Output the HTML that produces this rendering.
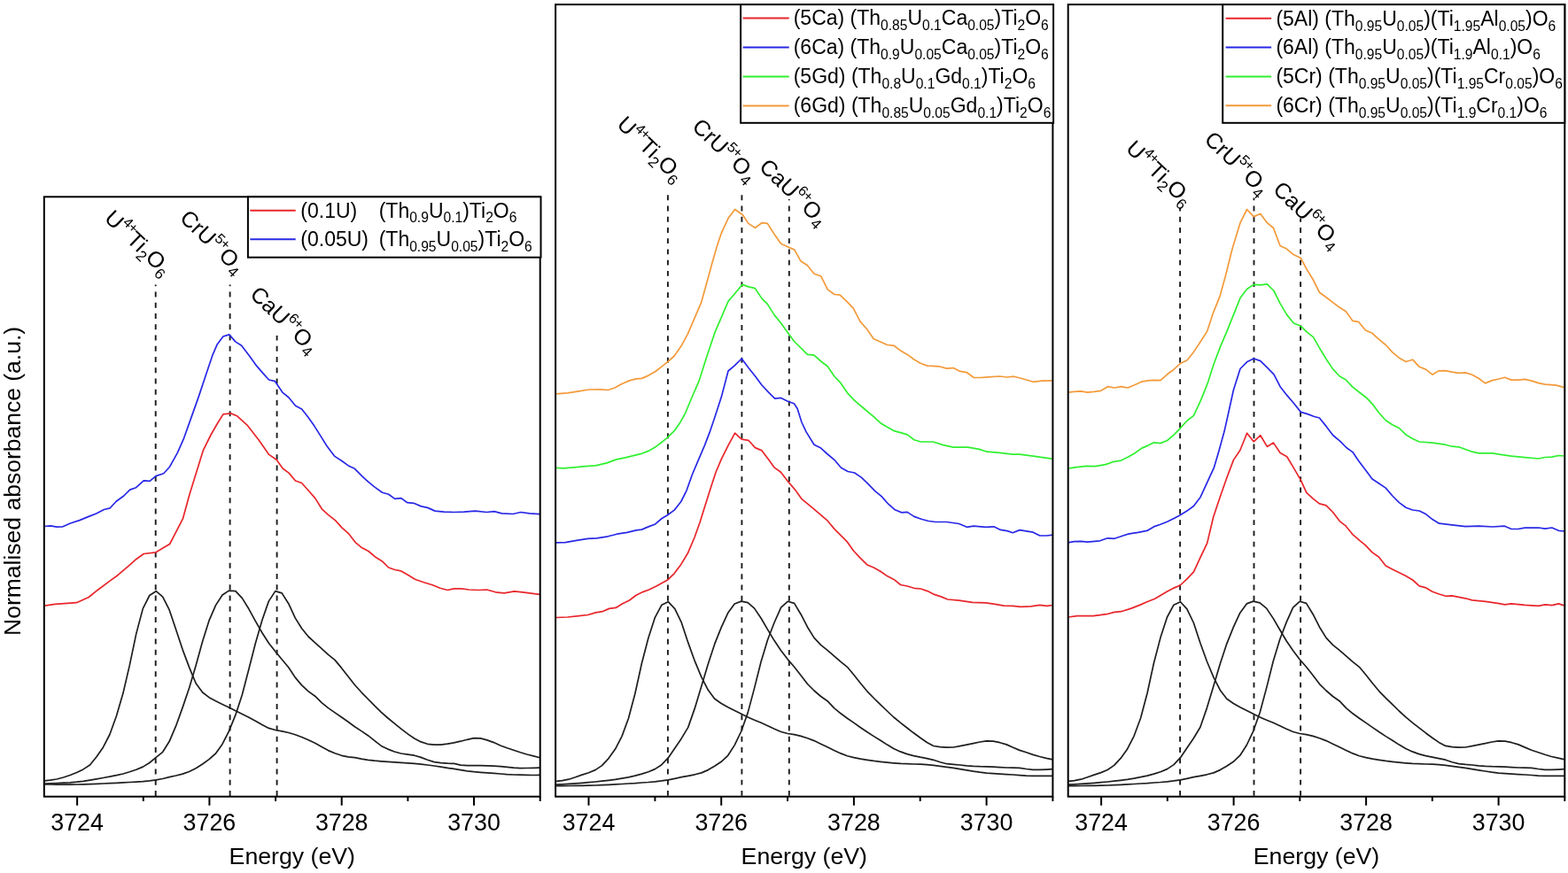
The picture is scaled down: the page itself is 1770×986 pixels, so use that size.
<!DOCTYPE html>
<html><head><meta charset="utf-8"><style>html,body{margin:0;padding:0;background:#fff;}svg{display:block;}</style></head>
<body><svg width="1770" height="986" viewBox="0 0 1770 986" font-family="Liberation Sans, Arial, sans-serif">
<rect width="1770" height="986" fill="#fff"/>
<line x1="175.7" y1="321.4" x2="175.7" y2="899.7" stroke="#1a1a1a" stroke-width="1.9" stroke-dasharray="5.9 6.35" stroke-dashoffset="4.05"/>
<line x1="259.6" y1="321.6" x2="259.6" y2="899.7" stroke="#1a1a1a" stroke-width="1.9" stroke-dasharray="5.9 6.35" stroke-dashoffset="4.25"/>
<line x1="312.6" y1="379.0" x2="312.6" y2="899.7" stroke="#1a1a1a" stroke-width="1.9" stroke-dasharray="5.9 6.35" stroke-dashoffset="0.40"/>
<line x1="753.9" y1="220.3" x2="753.9" y2="899.7" stroke="#1a1a1a" stroke-width="1.9" stroke-dasharray="5.9 6.33" stroke-dashoffset="0.00"/>
<line x1="837.4" y1="220.3" x2="837.4" y2="899.7" stroke="#1a1a1a" stroke-width="1.9" stroke-dasharray="5.9 6.33" stroke-dashoffset="0.00"/>
<line x1="890.8" y1="225.0" x2="890.8" y2="899.7" stroke="#1a1a1a" stroke-width="1.9" stroke-dasharray="5.9 6.33" stroke-dashoffset="4.70"/>
<line x1="1332.1" y1="234.4" x2="1332.1" y2="899.7" stroke="#1a1a1a" stroke-width="1.9" stroke-dasharray="5.9 6.33" stroke-dashoffset="1.87"/>
<line x1="1415.5" y1="223.6" x2="1415.5" y2="899.7" stroke="#1a1a1a" stroke-width="1.9" stroke-dasharray="5.9 6.33" stroke-dashoffset="3.30"/>
<line x1="1468.1" y1="246.6" x2="1468.1" y2="899.7" stroke="#1a1a1a" stroke-width="1.9" stroke-dasharray="5.9 6.33" stroke-dashoffset="1.84"/>
<polyline points="50.4,881.9 56.7,881.2 64.1,880.0 71.6,878.0 79.1,875.5 86.6,872.5 94.0,868.9 101.5,864.0 109.0,854.8 116.5,843.9 123.9,829.5 131.4,808.8 138.9,783.1 146.3,751.4 153.8,715.6 161.3,687.4 168.8,672.5 176.2,667.7 183.7,674.1 191.2,688.9 198.7,711.3 206.1,733.6 213.6,753.6 221.1,771.8 228.6,782.0 236.0,787.7 243.5,791.8 251.0,795.4 258.4,799.1 265.9,802.8 273.4,806.6 280.9,810.3 288.3,814.2 295.8,818.6 303.3,822.4 310.8,824.5 318.2,825.9 325.7,827.5 333.2,829.8 340.6,832.5 348.1,835.7 355.6,839.3 363.1,843.4 370.5,847.6 378.0,850.8 385.5,853.3 393.0,854.8 400.4,855.6 407.9,857.1 415.4,858.4 422.9,859.2 430.3,859.8 437.8,860.4 445.3,860.9 452.7,861.3 460.2,861.8 467.7,862.3 475.2,863.1 482.6,864.0 490.1,865.0 497.6,866.1 505.1,867.3 512.5,868.4 520.0,869.6 527.5,870.8 534.9,871.7 542.4,872.3 549.9,872.8 557.4,873.3 564.8,874.0 572.3,874.6 579.8,875.0 587.3,875.2 594.7,875.4 602.2,875.5 609.4,875.4" fill="none" stroke="#1e1e1e" stroke-width="1.7" stroke-linejoin="round"/>
<polyline points="50.4,885.2 56.7,884.9 64.1,884.6 71.6,884.2 79.1,883.8 86.6,883.2 94.0,882.3 101.5,881.1 109.0,879.8 116.5,878.5 123.9,877.2 131.4,875.7 138.9,874.0 146.3,871.8 153.8,869.3 161.3,866.1 168.8,861.5 176.2,855.4 183.7,849.3 191.2,837.3 198.7,819.7 206.1,799.1 213.6,777.0 221.1,751.7 228.6,724.5 236.0,700.9 243.5,683.6 251.0,672.0 258.4,667.1 265.9,667.6 273.4,675.6 280.9,687.8 288.3,701.4 295.8,714.5 303.3,726.3 310.8,735.8 318.2,744.7 325.7,753.8 333.2,765.1 340.6,773.9 348.1,780.9 355.6,786.2 363.1,793.7 370.5,799.6 378.0,804.9 385.5,810.0 393.0,815.3 400.4,820.7 407.9,825.6 415.4,830.7 422.9,836.7 430.3,842.4 437.8,846.1 445.3,849.0 452.7,851.0 460.2,852.1 467.7,853.2 475.2,855.4 482.6,858.2 490.1,860.6 497.6,861.6 505.1,862.2 512.5,862.4 520.0,864.2 527.5,864.7 534.9,864.7 542.4,864.7 549.9,864.8 557.4,865.1 564.8,865.6 572.3,866.3 579.8,867.1 587.3,867.6 594.7,867.5 602.2,867.3 609.4,867.1" fill="none" stroke="#1e1e1e" stroke-width="1.7" stroke-linejoin="round"/>
<polyline points="50.4,886.0 56.7,886.0 64.1,886.1 71.6,886.1 79.1,886.1 86.6,886.0 94.0,885.8 101.5,885.6 109.0,885.3 116.5,885.0 123.9,884.7 131.4,884.3 138.9,883.9 146.3,883.5 153.8,883.1 161.3,882.6 168.8,881.9 176.2,880.9 183.7,879.5 191.2,877.7 198.7,876.0 206.1,874.1 213.6,871.5 221.1,867.7 228.6,863.0 236.0,857.6 243.5,851.0 251.0,840.4 258.4,825.9 265.9,807.4 273.4,784.5 280.9,755.7 288.3,726.7 295.8,700.8 303.3,679.1 310.8,667.6 318.2,669.9 325.7,681.7 333.2,697.9 340.6,709.8 348.1,719.0 355.6,725.8 363.1,732.7 370.5,739.4 378.0,745.4 385.5,754.4 393.0,764.0 400.4,773.5 407.9,781.8 415.4,789.5 422.9,797.2 430.3,804.3 437.8,811.0 445.3,817.2 452.7,823.1 460.2,828.9 467.7,834.0 475.2,837.9 482.6,840.3 490.1,841.2 497.6,841.2 505.1,840.2 512.5,838.8 520.0,837.2 527.5,835.3 534.9,833.7 542.4,833.9 549.9,835.9 557.4,838.6 564.8,842.0 572.3,844.7 579.8,847.2 587.3,849.8 594.7,852.0 602.2,853.9 609.4,855.8" fill="none" stroke="#1e1e1e" stroke-width="1.7" stroke-linejoin="round"/>
<polyline points="628.1,882.4 634.6,881.7 642.1,880.2 649.6,877.8 657.0,875.1 664.5,872.7 672.0,869.6 679.5,864.6 687.0,856.6 694.5,846.1 702.0,831.6 709.4,811.5 716.9,783.3 724.4,749.3 731.9,720.5 739.4,697.3 746.9,683.3 754.3,679.7 761.8,687.7 769.3,703.2 776.8,725.9 784.3,746.7 791.8,764.7 799.3,779.3 806.7,789.2 814.2,794.5 821.7,798.8 829.2,802.6 836.7,806.2 844.2,810.0 851.6,813.2 859.1,816.3 866.6,819.7 874.1,823.3 881.6,826.5 889.1,828.5 896.6,829.7 904.0,831.4 911.5,833.7 919.0,836.6 926.5,840.2 934.0,843.8 941.5,847.5 949.0,850.9 956.4,853.7 963.9,855.6 971.4,857.1 978.9,858.3 986.4,859.4 993.9,860.3 1001.4,861.1 1008.8,861.8 1016.3,862.4 1023.8,862.7 1031.3,863.0 1038.8,863.2 1046.3,863.7 1053.7,864.4 1061.2,865.3 1068.7,866.3 1076.2,867.4 1083.7,868.6 1091.2,869.8 1098.7,871.1 1106.1,872.2 1113.6,873.1 1121.1,873.7 1128.6,874.2 1136.1,874.6 1143.6,875.0 1151.0,875.6 1158.5,876.1 1166.0,876.4 1173.5,876.4 1181.0,876.4 1188.5,876.3" fill="none" stroke="#1e1e1e" stroke-width="1.7" stroke-linejoin="round"/>
<polyline points="628.1,886.2 634.6,885.8 642.1,885.4 649.6,884.9 657.0,884.3 664.5,883.7 672.0,883.0 679.5,882.2 687.0,881.3 694.5,880.3 702.0,879.1 709.4,877.8 716.9,876.1 724.4,874.1 731.9,871.7 739.4,868.6 746.9,863.7 754.3,855.9 761.8,845.0 769.3,833.9 776.8,821.4 784.3,799.9 791.8,775.1 799.3,750.0 806.7,727.4 814.2,708.6 821.7,692.3 829.2,682.0 836.7,679.1 844.2,680.7 851.6,687.1 859.1,698.3 866.6,711.1 874.1,723.6 881.6,734.7 889.1,744.6 896.6,753.2 904.0,762.7 911.5,772.5 919.0,780.0 926.5,786.5 934.0,791.7 941.5,799.7 949.0,805.8 956.4,811.2 963.9,816.4 971.4,821.7 978.9,826.8 986.4,831.6 993.9,836.2 1001.4,841.1 1008.8,845.5 1016.3,848.9 1023.8,851.6 1031.3,853.6 1038.8,855.2 1046.3,856.6 1053.7,858.3 1061.2,860.7 1068.7,862.7 1076.2,863.4 1083.7,864.0 1091.2,864.9 1098.7,865.4 1106.1,865.7 1113.6,865.8 1121.1,866.1 1128.6,866.6 1136.1,867.0 1143.6,867.1 1151.0,867.4 1158.5,868.5 1166.0,869.4 1173.5,869.4 1181.0,869.1 1188.5,868.7" fill="none" stroke="#1e1e1e" stroke-width="1.7" stroke-linejoin="round"/>
<polyline points="628.1,887.7 634.6,887.6 642.1,887.5 649.6,887.4 657.0,887.3 664.5,887.2 672.0,887.0 679.5,886.7 687.0,886.3 694.5,885.9 702.0,885.5 709.4,885.0 716.9,884.6 724.4,884.0 731.9,883.5 739.4,882.8 746.9,881.9 754.3,880.8 761.8,879.3 769.3,877.7 776.8,876.3 784.3,874.8 791.8,872.9 799.3,869.6 806.7,865.2 814.2,860.3 821.7,853.3 829.2,841.6 836.7,826.0 844.2,804.9 851.6,777.1 859.1,747.2 866.6,722.5 874.1,703.0 881.6,686.2 889.1,679.3 896.6,681.4 904.0,693.7 911.5,708.2 919.0,720.4 926.5,728.4 934.0,734.4 941.5,740.9 949.0,747.4 956.4,753.3 963.9,762.3 971.4,771.8 978.9,780.8 986.4,788.5 993.9,795.8 1001.4,803.0 1008.8,810.0 1016.3,816.2 1023.8,822.0 1031.3,827.8 1038.8,833.3 1046.3,838.5 1053.7,842.5 1061.2,843.7 1068.7,844.2 1076.2,844.0 1083.7,842.6 1091.2,841.1 1098.7,839.6 1106.1,838.0 1113.6,836.8 1121.1,837.1 1128.6,838.7 1136.1,840.9 1143.6,844.2 1151.0,847.4 1158.5,849.8 1166.0,852.4 1173.5,854.5 1181.0,856.3 1188.5,857.8" fill="none" stroke="#1e1e1e" stroke-width="1.7" stroke-linejoin="round"/>
<polyline points="1206.1,882.4 1212.8,881.7 1220.3,880.2 1227.7,877.7 1235.2,875.1 1242.7,872.6 1250.2,869.5 1257.7,864.4 1265.1,856.4 1272.6,845.9 1280.1,831.3 1287.6,811.0 1295.1,782.7 1302.5,748.7 1310.0,720.1 1317.5,697.0 1325.0,683.2 1332.5,679.7 1339.9,687.9 1347.4,703.5 1354.9,726.2 1362.4,747.0 1369.9,764.9 1377.3,779.4 1384.8,789.3 1392.3,794.5 1399.8,798.8 1407.3,802.6 1414.7,806.2 1422.2,810.0 1429.7,813.2 1437.2,816.3 1444.7,819.7 1452.1,823.3 1459.6,826.5 1467.1,828.5 1474.6,829.7 1482.1,831.4 1489.5,833.7 1497.0,836.6 1504.5,840.2 1512.0,843.8 1519.5,847.5 1526.9,850.9 1534.4,853.7 1541.9,855.6 1549.4,857.1 1556.9,858.3 1564.3,859.4 1571.8,860.3 1579.3,861.1 1586.8,861.8 1594.3,862.4 1601.7,862.7 1609.2,863.0 1616.7,863.2 1624.2,863.7 1631.7,864.4 1639.1,865.3 1646.6,866.3 1654.1,867.4 1661.6,868.6 1669.1,869.8 1676.5,871.0 1684.0,872.2 1691.5,873.1 1699.0,873.7 1706.5,874.2 1713.9,874.6 1721.4,875.0 1728.9,875.5 1736.4,876.1 1743.9,876.3 1751.3,876.4 1758.8,876.4 1766.3,876.3" fill="none" stroke="#1e1e1e" stroke-width="1.7" stroke-linejoin="round"/>
<polyline points="1206.1,886.2 1212.8,885.8 1220.3,885.4 1227.7,884.9 1235.2,884.3 1242.7,883.7 1250.2,883.0 1257.7,882.2 1265.1,881.3 1272.6,880.3 1280.1,879.1 1287.6,877.7 1295.1,876.1 1302.5,874.1 1310.0,871.7 1317.5,868.6 1325.0,863.6 1332.5,855.7 1339.9,844.8 1347.4,833.7 1354.9,821.2 1362.4,799.6 1369.9,774.8 1377.3,749.7 1384.8,727.1 1392.3,708.4 1399.8,692.2 1407.3,681.9 1414.7,679.1 1422.2,680.8 1429.7,687.1 1437.2,698.4 1444.7,711.2 1452.1,723.7 1459.6,734.7 1467.1,744.7 1474.6,753.2 1482.1,762.7 1489.5,772.6 1497.0,780.0 1504.5,786.5 1512.0,791.7 1519.5,799.7 1526.9,805.8 1534.4,811.2 1541.9,816.4 1549.4,821.6 1556.9,826.8 1564.3,831.6 1571.8,836.2 1579.3,841.1 1586.8,845.5 1594.3,848.9 1601.7,851.6 1609.2,853.6 1616.7,855.1 1624.2,856.6 1631.7,858.2 1639.1,860.7 1646.6,862.6 1654.1,863.4 1661.6,864.0 1669.1,864.9 1676.5,865.4 1684.0,865.7 1691.5,865.8 1699.0,866.1 1706.5,866.6 1713.9,867.0 1721.4,867.1 1728.9,867.4 1736.4,868.5 1743.9,869.4 1751.3,869.4 1758.8,869.1 1766.3,868.7" fill="none" stroke="#1e1e1e" stroke-width="1.7" stroke-linejoin="round"/>
<polyline points="1206.1,887.7 1212.8,887.6 1220.3,887.5 1227.7,887.4 1235.2,887.3 1242.7,887.2 1250.2,887.0 1257.7,886.7 1265.1,886.3 1272.6,885.9 1280.1,885.5 1287.6,885.0 1295.1,884.6 1302.5,884.0 1310.0,883.5 1317.5,882.8 1325.0,881.9 1332.5,880.8 1339.9,879.3 1347.4,877.7 1354.9,876.3 1362.4,874.8 1369.9,872.9 1377.3,869.6 1384.8,865.2 1392.3,860.3 1399.8,853.2 1407.3,841.5 1414.7,825.8 1422.2,804.7 1429.7,776.9 1437.2,747.0 1444.7,722.3 1452.1,702.9 1459.6,686.1 1467.1,679.3 1474.6,681.4 1482.1,693.7 1489.5,708.2 1497.0,720.4 1504.5,728.4 1512.0,734.4 1519.5,740.9 1526.9,747.3 1534.4,753.3 1541.9,762.3 1549.4,771.8 1556.9,780.8 1564.3,788.4 1571.8,795.7 1579.3,803.0 1586.8,809.9 1594.3,816.1 1601.7,821.9 1609.2,827.7 1616.7,833.2 1624.2,838.4 1631.7,842.4 1639.1,843.7 1646.6,844.2 1654.1,844.0 1661.6,842.6 1669.1,841.1 1676.5,839.7 1684.0,838.0 1691.5,836.8 1699.0,837.1 1706.5,838.7 1713.9,840.9 1721.4,844.1 1728.9,847.3 1736.4,849.7 1743.9,852.3 1751.3,854.5 1758.8,856.2 1766.3,857.8" fill="none" stroke="#1e1e1e" stroke-width="1.7" stroke-linejoin="round"/>
<polyline points="50.2,684.1 62.2,682.4 72.6,681.7 86.4,680.7 100.2,674.5 110.5,666.2 124.3,655.9 132.9,649.7 145.0,639.3 153.6,631.7 162.2,625.5 176.0,623.8 184.7,618.6 191.6,614.5 198.4,601.4 206.4,585.9 214.0,558.3 220.9,535.9 229.5,508.3 238.1,491.0 245.0,479.0 251.9,467.9 260.5,466.9 267.4,469.7 279.5,480.7 291.6,496.2 303.6,513.4 312.2,519.3 319.1,529.0 326.0,534.1 333.5,543.0 340.6,545.5 347.7,553.5 355.7,562.6 363.3,574.8 370.4,581.3 378.4,587.6 386.1,596.1 393.2,602.3 401.1,612.6 408.8,618.8 415.9,622.5 424.4,629.6 431.5,633.9 438.6,641.0 445.7,643.5 452.8,644.9 460.8,649.5 468.4,654.3 478.4,657.7 488.3,660.8 496.8,664.3 505.3,666.5 512.4,664.8 521.0,664.8 529.5,666.0 540.8,666.5 549.4,666.0 559.3,668.8 569.2,669.9 580.6,667.9 592.0,669.1 609.0,671.3" fill="none" stroke="#e8262b" stroke-width="1.7" stroke-linejoin="round"/>
<polyline points="50.2,594.5 57.1,593.8 64.0,595.2 70.9,594.8 79.5,591.0 89.8,587.6 100.2,583.4 108.8,580.0 117.4,575.5 124.3,573.8 131.2,566.2 139.8,560.0 146.7,553.1 153.6,550.7 162.2,542.8 169.1,543.4 176.0,537.6 184.7,534.8 191.6,527.2 200.2,511.7 207.1,496.2 215.7,472.1 224.3,447.9 232.9,422.1 239.8,401.4 245.0,389.3 251.9,380.0 258.8,377.9 265.7,385.9 272.6,390.3 281.2,401.4 289.8,413.4 296.7,421.4 303.6,429.0 310.5,430.7 319.1,443.4 326.0,449.0 333.5,458.3 340.6,462.0 347.7,471.1 354.8,481.1 361.9,492.4 369.0,503.8 377.5,515.1 386.1,520.8 393.2,525.9 400.3,529.3 408.8,537.9 415.9,544.4 423.0,550.1 431.5,556.3 438.6,558.3 445.7,563.4 452.8,562.6 459.9,567.7 467.0,568.3 475.5,571.9 482.6,573.4 491.1,577.1 501.1,578.2 512.4,578.5 523.8,578.2 536.6,577.1 549.4,578.5 557.9,577.6 566.4,579.9 579.2,580.5 587.7,578.5 597.6,579.9 609.0,580.7" fill="none" stroke="#2828e6" stroke-width="1.7" stroke-linejoin="round"/>
<polyline points="627.6,697.5 640.7,697.0 653.4,695.7 663.6,694.5 672.4,691.9 680.0,690.7 687.6,687.4 695.2,686.4 702.8,681.8 710.5,678.0 718.1,672.2 725.7,668.6 733.3,665.8 740.9,662.0 747.2,658.5 754.1,654.7 761.2,647.6 768.8,637.4 776.4,624.8 784.0,607.0 790.3,589.3 796.6,569.0 803.0,548.7 808.0,533.5 814.4,518.3 822.0,503.1 829.6,489.2 837.2,496.2 844.8,497.3 852.4,505.6 860.0,508.9 867.6,519.1 874.0,527.9 881.6,533.5 890.4,544.9 898.0,553.8 905.1,563.7 919.0,575.1 934.2,588.2 941.8,597.4 955.8,611.3 963.4,622.0 971.0,630.1 978.6,637.7 986.2,641.0 993.8,645.3 1001.4,650.6 1009.0,654.4 1016.6,660.5 1024.2,662.0 1031.8,664.3 1039.4,665.0 1047.0,667.6 1054.6,671.4 1062.2,673.9 1069.8,677.0 1082.5,678.2 1097.7,680.3 1112.9,680.8 1123.1,682.3 1133.2,684.1 1143.3,684.3 1152.2,685.3 1163.6,684.8 1173.8,683.3 1181.4,684.3 1189.0,683.5" fill="none" stroke="#e8262b" stroke-width="1.7" stroke-linejoin="round"/>
<polyline points="627.6,612.9 638.2,612.6 650.9,610.3 663.6,608.3 673.7,607.8 686.4,605.8 696.5,603.2 707.9,601.4 718.1,598.9 724.4,598.1 732.0,594.9 739.1,592.3 747.2,585.5 753.5,581.7 761.2,576.1 768.8,566.5 775.1,553.8 781.4,536.0 787.8,520.8 795.4,503.1 801.7,486.6 806.8,471.4 814.4,448.1 822.0,419.0 829.6,412.7 837.2,405.0 844.8,415.2 852.4,424.8 860.0,435.0 867.6,443.1 874.7,450.2 881.6,449.4 889.2,453.2 896.3,455.7 900.0,461.2 905.0,477.0 910.1,487.9 919.0,502.3 926.6,506.1 934.2,513.0 941.8,519.3 949.4,528.2 957.0,532.5 964.6,534.0 972.2,539.1 979.8,546.4 987.5,554.3 995.1,560.6 1002.7,569.2 1010.3,575.8 1017.9,578.9 1024.2,578.4 1031.8,583.4 1040.7,586.5 1048.3,588.5 1055.9,589.5 1068.6,589.5 1082.5,591.5 1091.4,595.3 1099.0,594.1 1112.9,595.3 1121.8,594.8 1129.4,598.4 1137.0,599.6 1143.3,601.7 1151.0,598.6 1166.2,601.2 1173.8,605.0 1181.4,605.0 1189.0,604.2" fill="none" stroke="#2828e6" stroke-width="1.7" stroke-linejoin="round"/>
<polyline points="627.6,528.4 635.7,528.9 648.3,527.9 661.0,526.7 672.4,525.9 685.1,522.9 695.2,519.1 707.9,516.3 723.1,512.7 732.0,509.4 739.6,505.1 747.2,499.3 753.5,494.2 761.2,486.6 767.5,477.7 773.8,466.3 780.2,450.7 789.0,430.4 797.9,402.5 806.8,375.9 814.4,358.1 822.0,340.4 829.6,331.5 838.0,321.4 844.8,323.9 852.4,325.7 860.0,337.1 866.3,343.4 874.0,355.6 881.6,365.0 890.4,377.2 896.8,386.0 900.0,389.0 911.4,400.4 919.0,401.2 926.6,408.0 934.2,413.8 941.8,425.0 948.2,431.6 957.0,444.3 964.6,452.4 976.0,462.0 986.2,470.6 993.8,477.7 1001.4,482.3 1009.0,486.6 1016.6,488.6 1024.2,490.9 1031.8,496.7 1039.4,499.0 1053.4,499.0 1064.8,502.6 1076.2,505.1 1092.7,505.1 1105.3,507.4 1114.2,510.2 1128.1,511.4 1143.3,513.2 1151.0,513.2 1166.2,515.2 1189.0,518.3" fill="none" stroke="#2ff02f" stroke-width="1.7" stroke-linejoin="round"/>
<polyline points="626.8,444.8 640.7,443.8 653.4,441.8 664.8,440.0 677.5,439.8 686.4,440.5 694.0,438.0 701.6,433.7 710.5,429.9 718.1,427.9 724.4,427.4 732.0,424.1 739.6,419.7 747.2,413.9 753.5,408.8 761.2,402.0 768.8,391.1 776.4,377.2 784.0,359.4 791.6,341.7 797.9,318.9 804.2,296.0 809.3,278.3 814.4,263.1 822.0,246.6 829.6,236.5 838.5,242.8 844.8,252.4 852.4,257.3 860.0,251.7 866.3,252.4 874.0,264.4 881.6,275.3 889.2,278.8 896.8,282.1 903.8,294.7 911.4,299.8 919.0,309.2 926.6,311.7 934.2,326.9 941.8,332.5 948.2,333.2 955.8,340.3 963.4,348.4 971.0,363.1 978.6,371.8 986.2,382.7 993.8,386.0 1001.4,389.5 1009.0,390.3 1016.6,396.1 1024.2,400.4 1031.8,406.0 1039.4,410.5 1047.0,413.1 1059.7,413.8 1068.6,416.1 1076.2,415.6 1083.8,419.4 1091.4,420.7 1099.0,426.3 1106.6,426.5 1115.5,425.8 1128.1,425.0 1137.0,426.0 1144.6,425.2 1153.5,427.5 1166.2,431.3 1176.3,430.1 1189.0,429.8" fill="none" stroke="#f39a3a" stroke-width="1.7" stroke-linejoin="round"/>
<polyline points="1205.6,697.0 1216.2,695.7 1234.0,695.7 1249.2,693.7 1258.0,691.4 1265.6,690.7 1277.0,687.1 1287.2,683.1 1294.8,679.8 1303.7,676.2 1310.0,672.4 1317.6,667.9 1325.2,664.1 1332.3,661.0 1339.9,653.9 1347.5,645.8 1355.1,629.3 1362.7,613.4 1369.6,584.2 1377.2,561.4 1384.8,539.8 1392.4,519.6 1400.0,508.2 1407.6,489.2 1415.2,498.8 1422.8,491.7 1430.4,504.4 1437.5,500.1 1445.1,511.5 1452.7,515.8 1460.3,528.4 1468.4,542.4 1474.8,556.3 1482.4,563.4 1489.4,568.9 1497.0,570.9 1504.6,578.5 1512.2,588.6 1519.3,594.2 1526.9,603.6 1535.0,610.7 1541.4,615.8 1549.0,623.9 1556.6,629.2 1564.2,639.1 1571.8,643.1 1579.4,646.7 1587.0,650.5 1594.6,655.0 1602.2,661.9 1609.8,663.9 1616.9,668.2 1624.5,671.0 1632.1,673.3 1639.0,672.8 1646.6,674.3 1654.2,675.8 1661.8,677.9 1677.0,679.4 1692.2,681.7 1698.5,682.9 1706.1,681.9 1721.3,683.4 1736.6,684.4 1744.2,682.9 1751.8,683.7 1759.4,681.9 1767.0,684.4" fill="none" stroke="#e8262b" stroke-width="1.7" stroke-linejoin="round"/>
<polyline points="1205.6,612.9 1212.4,611.6 1220.0,611.3 1227.6,612.1 1241.6,610.8 1250.4,607.8 1258.0,608.3 1265.6,605.8 1273.2,603.2 1284.6,601.4 1294.8,599.4 1302.4,594.9 1310.0,592.3 1317.6,589.3 1325.2,585.5 1332.3,581.7 1339.9,577.1 1347.5,571.5 1355.1,561.4 1362.7,544.9 1370.3,528.4 1375.9,509.4 1382.2,486.6 1388.1,460.0 1392.4,440.5 1400.0,416.5 1407.6,408.8 1415.2,405.0 1422.8,407.6 1430.4,415.2 1438.0,422.8 1445.1,436.7 1452.7,446.4 1460.3,455.2 1468.4,465.4 1476.0,467.6 1483.6,470.5 1489.4,472.0 1497.0,481.4 1504.6,491.5 1512.2,497.9 1519.8,505.5 1526.9,510.6 1533.8,520.7 1541.4,530.8 1549.0,541.0 1556.6,546.0 1564.2,551.1 1571.8,560.0 1579.4,567.6 1587.0,573.2 1594.6,576.0 1602.2,577.0 1609.8,580.8 1616.9,586.6 1624.5,591.2 1639.0,592.9 1654.2,594.7 1669.4,594.2 1684.6,595.0 1698.5,594.2 1706.1,597.5 1713.7,597.5 1721.3,596.2 1736.6,596.0 1744.2,597.2 1751.8,596.0 1759.4,599.3 1767.0,600.0" fill="none" stroke="#2828e6" stroke-width="1.7" stroke-linejoin="round"/>
<polyline points="1205.6,529.2 1213.7,527.9 1226.3,526.4 1236.5,526.7 1247.9,524.6 1258.0,521.3 1265.6,520.1 1273.2,516.3 1280.8,512.0 1288.5,506.4 1296.1,503.1 1302.4,499.8 1310.0,500.6 1317.6,497.5 1325.2,491.2 1332.3,483.6 1339.9,475.2 1347.5,469.4 1355.6,451.9 1363.2,432.9 1369.6,412.7 1377.2,392.4 1384.8,374.6 1392.4,355.6 1400.0,336.6 1407.6,326.5 1415.2,321.4 1422.8,321.9 1430.4,320.9 1438.0,328.5 1445.1,342.9 1452.7,355.6 1460.3,365.0 1468.4,368.3 1474.8,374.6 1482.6,380.9 1489.4,392.8 1497.0,405.5 1504.6,416.9 1512.2,425.0 1519.3,429.0 1526.9,437.2 1535.0,443.5 1542.6,449.3 1550.2,457.4 1556.6,466.3 1564.2,474.7 1571.8,479.7 1579.4,483.5 1587.0,490.9 1594.6,495.5 1602.2,499.0 1616.9,500.2 1631.4,502.2 1639.0,504.2 1646.6,504.8 1660.5,509.8 1669.4,511.8 1684.6,511.8 1692.2,513.1 1706.1,515.1 1721.3,516.7 1736.6,518.0 1744.2,516.5 1751.8,516.2 1759.4,514.5 1767.0,515.0" fill="none" stroke="#2ff02f" stroke-width="1.7" stroke-linejoin="round"/>
<polyline points="1205.6,443.1 1212.4,442.3 1220.0,441.8 1227.6,443.1 1235.2,442.3 1242.8,441.3 1250.4,436.7 1258.0,438.0 1265.6,436.7 1273.2,438.0 1280.8,434.7 1288.5,431.2 1296.1,429.9 1302.4,429.4 1310.0,429.6 1317.6,422.8 1325.2,417.2 1332.3,410.6 1339.9,407.1 1347.5,397.4 1355.1,386.0 1362.7,374.1 1369.6,353.1 1377.2,334.1 1383.5,311.3 1391.1,280.8 1400.0,251.7 1407.6,236.5 1415.2,244.6 1422.8,241.5 1430.4,251.7 1437.5,257.5 1445.1,277.8 1452.0,280.8 1459.6,287.2 1468.4,291.5 1474.8,303.7 1481.8,315.0 1489.4,330.2 1497.0,335.8 1504.6,341.6 1512.2,347.2 1519.3,351.7 1526.9,362.4 1533.8,363.7 1541.4,373.0 1549.0,376.3 1556.6,383.4 1564.2,389.5 1571.8,397.9 1579.4,404.2 1587.0,408.5 1594.6,406.2 1602.2,414.3 1609.8,417.4 1616.9,423.2 1623.8,418.9 1631.4,418.7 1639.0,420.2 1646.6,421.4 1654.2,420.9 1661.8,423.2 1669.4,427.5 1676.5,432.9 1684.6,429.6 1692.2,428.0 1698.5,426.3 1706.1,429.1 1713.7,429.1 1721.3,428.3 1729.0,430.1 1736.6,432.6 1744.2,434.1 1756.8,435.1 1767.0,437.9" fill="none" stroke="#f39a3a" stroke-width="1.7" stroke-linejoin="round"/>
<rect x="49.8" y="222.3" width="559.9" height="677.4" fill="none" stroke="#000" stroke-width="2"/>
<line x1="87.1" y1="899.7" x2="87.1" y2="909.7" stroke="#000" stroke-width="2"/>
<text x="87.1" y="937.6" font-size="26.8" text-anchor="middle">3724</text>
<line x1="161.8" y1="899.7" x2="161.8" y2="904.9000000000001" stroke="#000" stroke-width="2"/>
<line x1="236.4" y1="899.7" x2="236.4" y2="909.7" stroke="#000" stroke-width="2"/>
<text x="236.4" y="937.6" font-size="26.8" text-anchor="middle">3726</text>
<line x1="311.1" y1="899.7" x2="311.1" y2="904.9000000000001" stroke="#000" stroke-width="2"/>
<line x1="385.7" y1="899.7" x2="385.7" y2="909.7" stroke="#000" stroke-width="2"/>
<text x="385.7" y="937.6" font-size="26.8" text-anchor="middle">3728</text>
<line x1="460.4" y1="899.7" x2="460.4" y2="904.9000000000001" stroke="#000" stroke-width="2"/>
<line x1="535.0" y1="899.7" x2="535.0" y2="909.7" stroke="#000" stroke-width="2"/>
<text x="535.0" y="937.6" font-size="26.8" text-anchor="middle">3730</text>
<line x1="609.7" y1="899.7" x2="609.7" y2="904.9000000000001" stroke="#000" stroke-width="2"/>
<text x="329.8" y="976.4" font-size="26.7" text-anchor="middle">Energy (eV)</text>
<rect x="627.1" y="5.1" width="561.3" height="894.6" fill="none" stroke="#000" stroke-width="2"/>
<line x1="664.5" y1="899.7" x2="664.5" y2="909.7" stroke="#000" stroke-width="2"/>
<text x="664.5" y="937.6" font-size="26.8" text-anchor="middle">3724</text>
<line x1="739.4" y1="899.7" x2="739.4" y2="904.9000000000001" stroke="#000" stroke-width="2"/>
<line x1="814.2" y1="899.7" x2="814.2" y2="909.7" stroke="#000" stroke-width="2"/>
<text x="814.2" y="937.6" font-size="26.8" text-anchor="middle">3726</text>
<line x1="889.0" y1="899.7" x2="889.0" y2="904.9000000000001" stroke="#000" stroke-width="2"/>
<line x1="963.9" y1="899.7" x2="963.9" y2="909.7" stroke="#000" stroke-width="2"/>
<text x="963.9" y="937.6" font-size="26.8" text-anchor="middle">3728</text>
<line x1="1038.7" y1="899.7" x2="1038.7" y2="904.9000000000001" stroke="#000" stroke-width="2"/>
<line x1="1113.6" y1="899.7" x2="1113.6" y2="909.7" stroke="#000" stroke-width="2"/>
<text x="1113.6" y="937.6" font-size="26.8" text-anchor="middle">3730</text>
<line x1="1188.4" y1="899.7" x2="1188.4" y2="904.9000000000001" stroke="#000" stroke-width="2"/>
<text x="907.8" y="976.4" font-size="26.7" text-anchor="middle">Energy (eV)</text>
<rect x="1205.7" y="5.1" width="560.6" height="894.6" fill="none" stroke="#000" stroke-width="2"/>
<line x1="1243.1" y1="899.7" x2="1243.1" y2="909.7" stroke="#000" stroke-width="2"/>
<text x="1243.1" y="937.6" font-size="26.8" text-anchor="middle">3724</text>
<line x1="1317.8" y1="899.7" x2="1317.8" y2="904.9000000000001" stroke="#000" stroke-width="2"/>
<line x1="1392.6" y1="899.7" x2="1392.6" y2="909.7" stroke="#000" stroke-width="2"/>
<text x="1392.6" y="937.6" font-size="26.8" text-anchor="middle">3726</text>
<line x1="1467.3" y1="899.7" x2="1467.3" y2="904.9000000000001" stroke="#000" stroke-width="2"/>
<line x1="1542.1" y1="899.7" x2="1542.1" y2="909.7" stroke="#000" stroke-width="2"/>
<text x="1542.1" y="937.6" font-size="26.8" text-anchor="middle">3728</text>
<line x1="1616.8" y1="899.7" x2="1616.8" y2="904.9000000000001" stroke="#000" stroke-width="2"/>
<line x1="1691.6" y1="899.7" x2="1691.6" y2="909.7" stroke="#000" stroke-width="2"/>
<text x="1691.6" y="937.6" font-size="26.8" text-anchor="middle">3730</text>
<line x1="1766.3" y1="899.7" x2="1766.3" y2="904.9000000000001" stroke="#000" stroke-width="2"/>
<text x="1486.0" y="976.4" font-size="26.7" text-anchor="middle">Energy (eV)</text>
<text transform="translate(23.4,543.4) rotate(-90)" font-size="26.5" text-anchor="middle">Normalised absorbance (a.u.)</text>
<rect x="279.9" y="222.3" width="330.6" height="68.4" fill="#fff" stroke="#000" stroke-width="2"/>
<line x1="282.3" y1="237.7" x2="333.7" y2="237.7" stroke="#e8262b" stroke-width="2"/>
<text x="339.3" y="245.5" font-size="23">(0.1U)</text>
<text x="427.7" y="245.5" font-size="23"><tspan>(Th</tspan><tspan dy="5.9" font-size="15.6">0.9</tspan><tspan dy="-5.9">U</tspan><tspan dy="5.9" font-size="15.6">0.1</tspan><tspan dy="-5.9">)Ti</tspan><tspan dy="5.9" font-size="15.6">2</tspan><tspan dy="-5.9">O</tspan><tspan dy="5.9" font-size="15.6">6</tspan></text>
<line x1="282.3" y1="270.3" x2="333.7" y2="270.3" stroke="#2828e6" stroke-width="2"/>
<text x="339.3" y="278.1" font-size="23">(0.05U)</text>
<text x="427.7" y="278.1" font-size="23"><tspan>(Th</tspan><tspan dy="5.9" font-size="15.6">0.95</tspan><tspan dy="-5.9">U</tspan><tspan dy="5.9" font-size="15.6">0.05</tspan><tspan dy="-5.9">)Ti</tspan><tspan dy="5.9" font-size="15.6">2</tspan><tspan dy="-5.9">O</tspan><tspan dy="5.9" font-size="15.6">6</tspan></text>
<rect x="836.1" y="5.1" width="353.0" height="133.7" fill="#fff" stroke="#000" stroke-width="2"/>
<line x1="838.6" y1="20.4" x2="890.7" y2="20.4" stroke="#e8262b" stroke-width="2"/>
<text x="895.7" y="28.2" font-size="23"><tspan>(5Ca) </tspan><tspan>(Th</tspan><tspan dy="5.9" font-size="15.6">0.85</tspan><tspan dy="-5.9">U</tspan><tspan dy="5.9" font-size="15.6">0.1</tspan><tspan dy="-5.9">Ca</tspan><tspan dy="5.9" font-size="15.6">0.05</tspan><tspan dy="-5.9">)Ti</tspan><tspan dy="5.9" font-size="15.6">2</tspan><tspan dy="-5.9">O</tspan><tspan dy="5.9" font-size="15.6">6</tspan></text>
<line x1="838.6" y1="53.4" x2="890.7" y2="53.4" stroke="#2828e6" stroke-width="2"/>
<text x="895.7" y="61.2" font-size="23"><tspan>(6Ca) </tspan><tspan>(Th</tspan><tspan dy="5.9" font-size="15.6">0.9</tspan><tspan dy="-5.9">U</tspan><tspan dy="5.9" font-size="15.6">0.05</tspan><tspan dy="-5.9">Ca</tspan><tspan dy="5.9" font-size="15.6">0.05</tspan><tspan dy="-5.9">)Ti</tspan><tspan dy="5.9" font-size="15.6">2</tspan><tspan dy="-5.9">O</tspan><tspan dy="5.9" font-size="15.6">6</tspan></text>
<line x1="838.6" y1="86.5" x2="890.7" y2="86.5" stroke="#2ff02f" stroke-width="2"/>
<text x="895.7" y="94.3" font-size="23"><tspan>(5Gd) </tspan><tspan>(Th</tspan><tspan dy="5.9" font-size="15.6">0.8</tspan><tspan dy="-5.9">U</tspan><tspan dy="5.9" font-size="15.6">0.1</tspan><tspan dy="-5.9">Gd</tspan><tspan dy="5.9" font-size="15.6">0.1</tspan><tspan dy="-5.9">)Ti</tspan><tspan dy="5.9" font-size="15.6">2</tspan><tspan dy="-5.9">O</tspan><tspan dy="5.9" font-size="15.6">6</tspan></text>
<line x1="838.6" y1="119.5" x2="890.7" y2="119.5" stroke="#f39a3a" stroke-width="2"/>
<text x="895.7" y="127.3" font-size="23"><tspan>(6Gd) </tspan><tspan>(Th</tspan><tspan dy="5.9" font-size="15.6">0.85</tspan><tspan dy="-5.9">U</tspan><tspan dy="5.9" font-size="15.6">0.05</tspan><tspan dy="-5.9">Gd</tspan><tspan dy="5.9" font-size="15.6">0.1</tspan><tspan dy="-5.9">)Ti</tspan><tspan dy="5.9" font-size="15.6">2</tspan><tspan dy="-5.9">O</tspan><tspan dy="5.9" font-size="15.6">6</tspan></text>
<rect x="1380.2" y="5.1" width="386.1" height="133.7" fill="#fff" stroke="#000" stroke-width="2"/>
<line x1="1383.6" y1="20.8" x2="1435.1" y2="20.8" stroke="#e8262b" stroke-width="2"/>
<text x="1440.4" y="28.6" font-size="23"><tspan>(5Al) </tspan><tspan>(Th</tspan><tspan dy="5.9" font-size="15.6">0.95</tspan><tspan dy="-5.9">U</tspan><tspan dy="5.9" font-size="15.6">0.05</tspan><tspan dy="-5.9">)(Ti</tspan><tspan dy="5.9" font-size="15.6">1.95</tspan><tspan dy="-5.9">Al</tspan><tspan dy="5.9" font-size="15.6">0.05</tspan><tspan dy="-5.9">)O</tspan><tspan dy="5.9" font-size="15.6">6</tspan></text>
<line x1="1383.6" y1="53.6" x2="1435.1" y2="53.6" stroke="#2828e6" stroke-width="2"/>
<text x="1440.4" y="61.4" font-size="23"><tspan>(6Al) </tspan><tspan>(Th</tspan><tspan dy="5.9" font-size="15.6">0.95</tspan><tspan dy="-5.9">U</tspan><tspan dy="5.9" font-size="15.6">0.05</tspan><tspan dy="-5.9">)(Ti</tspan><tspan dy="5.9" font-size="15.6">1.9</tspan><tspan dy="-5.9">Al</tspan><tspan dy="5.9" font-size="15.6">0.1</tspan><tspan dy="-5.9">)O</tspan><tspan dy="5.9" font-size="15.6">6</tspan></text>
<line x1="1383.6" y1="86.6" x2="1435.1" y2="86.6" stroke="#2ff02f" stroke-width="2"/>
<text x="1440.4" y="94.4" font-size="23"><tspan>(5Cr) </tspan><tspan>(Th</tspan><tspan dy="5.9" font-size="15.6">0.95</tspan><tspan dy="-5.9">U</tspan><tspan dy="5.9" font-size="15.6">0.05</tspan><tspan dy="-5.9">)(Ti</tspan><tspan dy="5.9" font-size="15.6">1.95</tspan><tspan dy="-5.9">Cr</tspan><tspan dy="5.9" font-size="15.6">0.05</tspan><tspan dy="-5.9">)O</tspan><tspan dy="5.9" font-size="15.6">6</tspan></text>
<line x1="1383.6" y1="119.3" x2="1435.1" y2="119.3" stroke="#f39a3a" stroke-width="2"/>
<text x="1440.4" y="127.1" font-size="23"><tspan>(6Cr) </tspan><tspan>(Th</tspan><tspan dy="5.9" font-size="15.6">0.95</tspan><tspan dy="-5.9">U</tspan><tspan dy="5.9" font-size="15.6">0.05</tspan><tspan dy="-5.9">)(Ti</tspan><tspan dy="5.9" font-size="15.6">1.9</tspan><tspan dy="-5.9">Cr</tspan><tspan dy="5.9" font-size="15.6">0.1</tspan><tspan dy="-5.9">)O</tspan><tspan dy="5.9" font-size="15.6">6</tspan></text>
<text class="pl" transform="translate(116.8,247.9) rotate(44)" font-size="25"><tspan dy="0">U</tspan><tspan dy="-11.3" font-size="16" letter-spacing="-0.8">4+</tspan><tspan dy="11.3">Ti</tspan><tspan dy="5.6" font-size="17">2</tspan><tspan dy="-5.6">O</tspan><tspan dy="5.6" font-size="17">6</tspan></text>
<text class="pl" transform="translate(201.8,247.8) rotate(44)" font-size="25"><tspan dy="0">CrU</tspan><tspan dy="-11.3" font-size="16" letter-spacing="-0.8">5+</tspan><tspan dy="11.3">O</tspan><tspan dy="5.6" font-size="17">4</tspan></text>
<text class="pl" transform="translate(280.9,333.9) rotate(44)" font-size="25"><tspan dy="0">CaU</tspan><tspan dy="-11.3" font-size="16" letter-spacing="-0.8">6+</tspan><tspan dy="11.3">O</tspan><tspan dy="5.6" font-size="17">4</tspan></text>
<text class="pl" transform="translate(695.2,142.0) rotate(44)" font-size="25"><tspan dy="0">U</tspan><tspan dy="-11.3" font-size="16" letter-spacing="-0.8">4+</tspan><tspan dy="11.3">Ti</tspan><tspan dy="5.6" font-size="17">2</tspan><tspan dy="-5.6">O</tspan><tspan dy="5.6" font-size="17">6</tspan></text>
<text class="pl" transform="translate(780.0,144.4) rotate(44)" font-size="25"><tspan dy="0">CrU</tspan><tspan dy="-11.3" font-size="16" letter-spacing="-0.8">5+</tspan><tspan dy="11.3">O</tspan><tspan dy="5.6" font-size="17">4</tspan></text>
<text class="pl" transform="translate(855.8,190.0) rotate(44)" font-size="25"><tspan dy="0">CaU</tspan><tspan dy="-11.3" font-size="16" letter-spacing="-0.8">6+</tspan><tspan dy="11.3">O</tspan><tspan dy="5.6" font-size="17">4</tspan></text>
<text class="pl" transform="translate(1269.7,169.3) rotate(44)" font-size="25"><tspan dy="0">U</tspan><tspan dy="-11.3" font-size="16" letter-spacing="-0.8">4+</tspan><tspan dy="11.3">Ti</tspan><tspan dy="5.6" font-size="17">2</tspan><tspan dy="-5.6">O</tspan><tspan dy="5.6" font-size="17">6</tspan></text>
<text class="pl" transform="translate(1358.2,159.0) rotate(44)" font-size="25"><tspan dy="0">CrU</tspan><tspan dy="-11.3" font-size="16" letter-spacing="-0.8">5+</tspan><tspan dy="11.3">O</tspan><tspan dy="5.6" font-size="17">4</tspan></text>
<text class="pl" transform="translate(1435.8,215.6) rotate(44)" font-size="25"><tspan dy="0">CaU</tspan><tspan dy="-11.3" font-size="16" letter-spacing="-0.8">6+</tspan><tspan dy="11.3">O</tspan><tspan dy="5.6" font-size="17">4</tspan></text>
</svg></body></html>
